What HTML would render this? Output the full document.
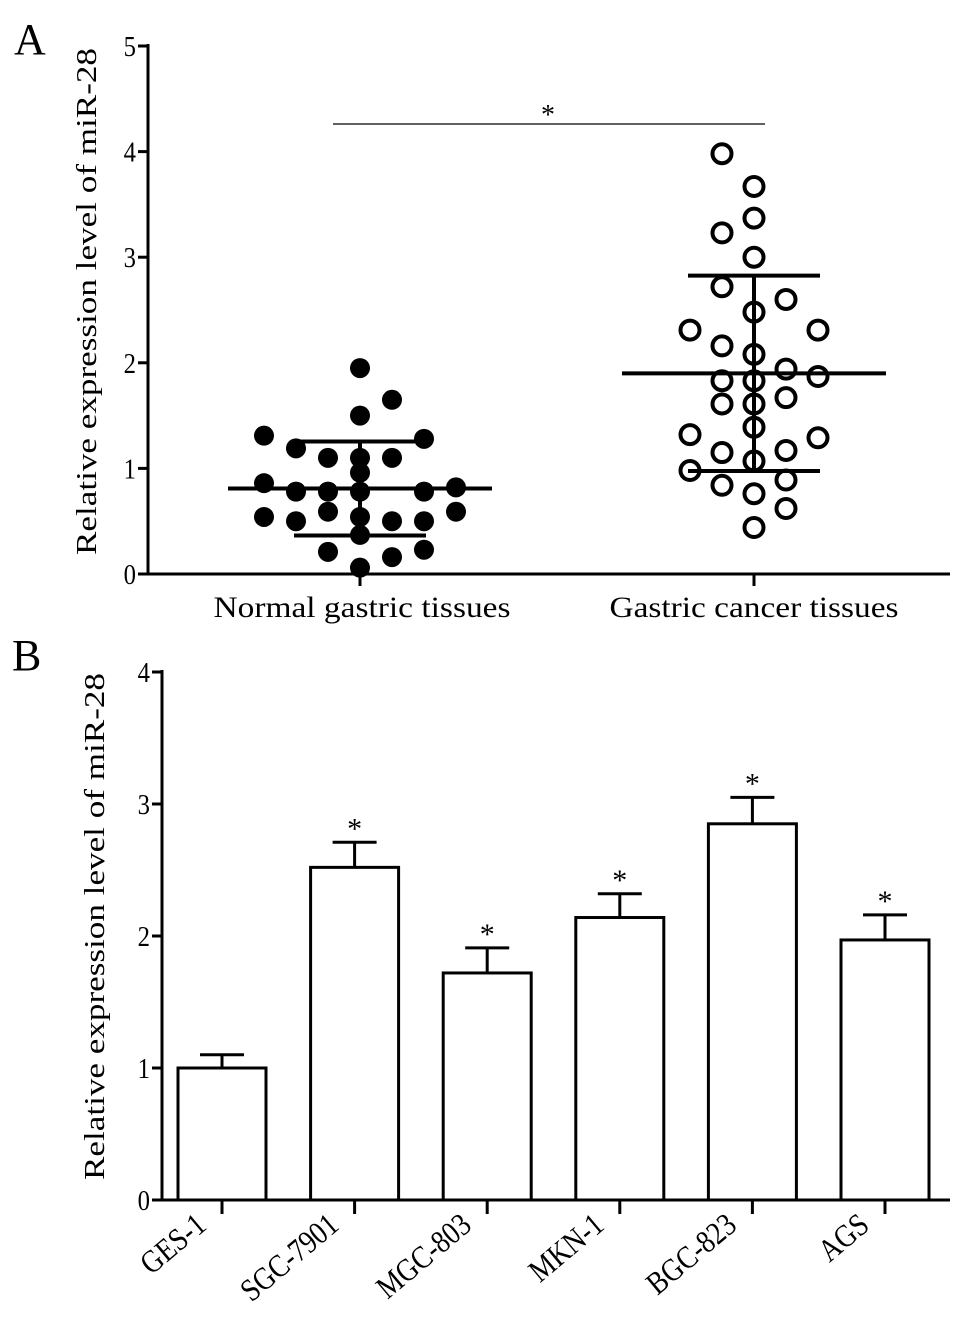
<!DOCTYPE html>
<html><head><meta charset="utf-8"><style>
html,body{margin:0;padding:0;background:#fff;}
svg{display:block;font-family:"Liberation Serif",serif;}
</style></head><body>
<svg id="fig" width="969" height="1320" viewBox="0 0 969 1320">
<g id="pA"></g>
<g id="pB"></g>
</svg>
<script>
// Panel A data
const aTicks = [0,1,2,3,4,5];
const normalVals = [1.95,1.65,1.50,1.31,1.19,1.28,1.10,1.10,1.10,0.86,0.78,0.78,0.78,0.78,0.82,0.54,0.50,0.59,0.54,0.50,0.50,0.59,0.37,0.21,0.16,0.23,0.06,0.96];
const normalJit = [0,1,0,-3,-2,2,-1,0,1,-3,-2,-1,0,2,3,-3,-2,-1,0,1,2,3,0,-1,1,2,0,0];
const cancerVals = [3.98,3.67,3.37,3.23,3.00,2.72,2.60,2.48,2.31,2.16,2.08,2.31,1.83,1.83,1.94,1.87,1.61,1.61,1.67,1.32,1.39,1.15,1.17,1.29,0.98,1.07,0.84,0.76,0.89,0.44,0.62];
const cancerJit = [-1,0,0,-1,0,-1,1,0,-2,-1,0,2,-1,0,1,2,-1,0,1,-2,0,-1,1,2,-2,0,-1,0,1,0,1];
const aMeans = [0.81,1.90];
const aSD = [0.445,0.925];
const aCats = ["Normal gastric tissues","Gastric cancer tissues"];
// Panel B data
const bCats = ["GES-1","SGC-7901","MGC-803","MKN-1","BGC-823","AGS"];
const bVals = [1.00,2.52,1.72,2.14,2.85,1.97];
const bErr = [0.10,0.19,0.19,0.18,0.20,0.19];
const bSig = [false,true,true,true,true,true];
const bTicks = [0,1,2,3,4];

const NS="http://www.w3.org/2000/svg";
function mk(p,t,a,txt){const e=document.createElementNS(NS,t);for(const k in a)e.setAttribute(k,a[k]);if(txt!==undefined)e.textContent=txt;p.appendChild(e);return e;}

// ---- Panel A
const A=document.getElementById('pA');
const ay=v=>574-v*105.6;
const acx=[360,754];
const ax=(i,j)=>acx[i]+j*32;
let e=mk(A,'text',{x:14,y:54,'font-size':44},'A');


e=mk(A,'line',{x1:148,y1:44,x2:148,y2:575,stroke:'#000','stroke-width':3});


e=mk(A,'line',{x1:147,y1:574,x2:950,y2:574,stroke:'#000','stroke-width':3});


aTicks.forEach(t=>{
  e=mk(A,'line',{x1:138,y1:ay(t),x2:148,y2:ay(t),stroke:'#000','stroke-width':3});
  
  
  e=mk(A,'text',{x:136,y:ay(t)+10,'font-size':29,'text-anchor':'end',transform:`translate(${136*0.15},0) scale(0.85,1)`},String(t));
  
  
});
const aLen=[297,289];
aCats.forEach((c,i)=>{
  e=mk(A,'line',{x1:acx[i],y1:574,x2:acx[i],y2:586,stroke:'#000','stroke-width':3});
  
  
  e=mk(A,'text',{x:acx[i]-aLen[i]/2+(i?0:2),y:617,'font-size':30,textLength:aLen[i],lengthAdjust:'spacingAndGlyphs'},c);
  
  
});
e=mk(A,'text',{transform:'translate(96,555) rotate(-90)','font-size':29,textLength:507,lengthAdjust:'spacingAndGlyphs'},'Relative expression level of miR-28');


normalVals.forEach((v,k)=>{
  e=mk(A,'circle',{cx:ax(0,normalJit[k]),cy:ay(v),r:10,fill:'#000'});
  
  
});
cancerVals.forEach((v,k)=>{
  e=mk(A,'circle',{cx:ax(1,cancerJit[k]),cy:ay(v),r:9.5,fill:'none',stroke:'#000','stroke-width':4});
  
  
});
aMeans.forEach((m,i)=>{
  e=mk(A,'line',{x1:acx[i]-132,y1:ay(m),x2:acx[i]+132,y2:ay(m),stroke:'#000','stroke-width':4});
  
  
  e=mk(A,'line',{x1:acx[i],y1:ay(m+aSD[i]),x2:acx[i],y2:ay(m-aSD[i]),stroke:'#000','stroke-width':4});
  
  
  [m+aSD[i],m-aSD[i]].forEach(s=>{
    e=mk(A,'line',{x1:acx[i]-66,y1:ay(s),x2:acx[i]+66,y2:ay(s),stroke:'#000','stroke-width':4});
    
    
  });
});
e=mk(A,'line',{x1:333,y1:124,x2:765,y2:124,stroke:'#000','stroke-width':1.2});


e=mk(A,'text',{x:548,y:124,'font-size':28,'text-anchor':'middle'},'*');



// ---- Panel B
const B=document.getElementById('pB');
const by=v=>1200-v*132;
const bx=i=>222+i*132.6;
const bw=88;
e=mk(B,'text',{x:12,y:670,'font-size':44},'B');


e=mk(B,'line',{x1:162,y1:670,x2:162,y2:1201,stroke:'#000','stroke-width':3});


e=mk(B,'line',{x1:161,y1:1200,x2:950,y2:1200,stroke:'#000','stroke-width':3});


bTicks.forEach(t=>{
  e=mk(B,'line',{x1:152,y1:by(t),x2:162,y2:by(t),stroke:'#000','stroke-width':3});
  
  
  e=mk(B,'text',{x:150,y:by(t)+10,'font-size':29,'text-anchor':'end',transform:`translate(${150*0.15},0) scale(0.85,1)`},String(t));
  
  
});
e=mk(B,'text',{transform:'translate(104,1180) rotate(-90)','font-size':29,textLength:507,lengthAdjust:'spacingAndGlyphs'},'Relative expression level of miR-28');


bCats.forEach((c,i)=>{
  const cx=bx(i);
  e=mk(B,'line',{x1:cx,y1:by(bVals[i]),x2:cx,y2:by(bVals[i]+bErr[i]),stroke:'#000','stroke-width':3});
  
  
  e=mk(B,'line',{x1:cx-22,y1:by(bVals[i]+bErr[i]),x2:cx+22,y2:by(bVals[i]+bErr[i]),stroke:'#000','stroke-width':3});
  
  
  e=mk(B,'rect',{x:cx-bw/2,y:by(bVals[i]),width:bw,height:by(0)-by(bVals[i]),fill:'#fff',stroke:'#000','stroke-width':3});
  
  
  if(bSig[i]){
    e=mk(B,'text',{x:cx,y:by(bVals[i]+bErr[i])-4,'font-size':30,'text-anchor':'middle'},'*');
    
    
  }
  e=mk(B,'line',{x1:cx,y1:1200,x2:cx,y2:1214,stroke:'#000','stroke-width':3});
  
  
  e=mk(B,'text',{transform:`translate(${cx-14},1228) rotate(-40) scale(0.85,1)`,'font-size':32,'text-anchor':'end'},c);
  
  
});
</script>
</body></html>
